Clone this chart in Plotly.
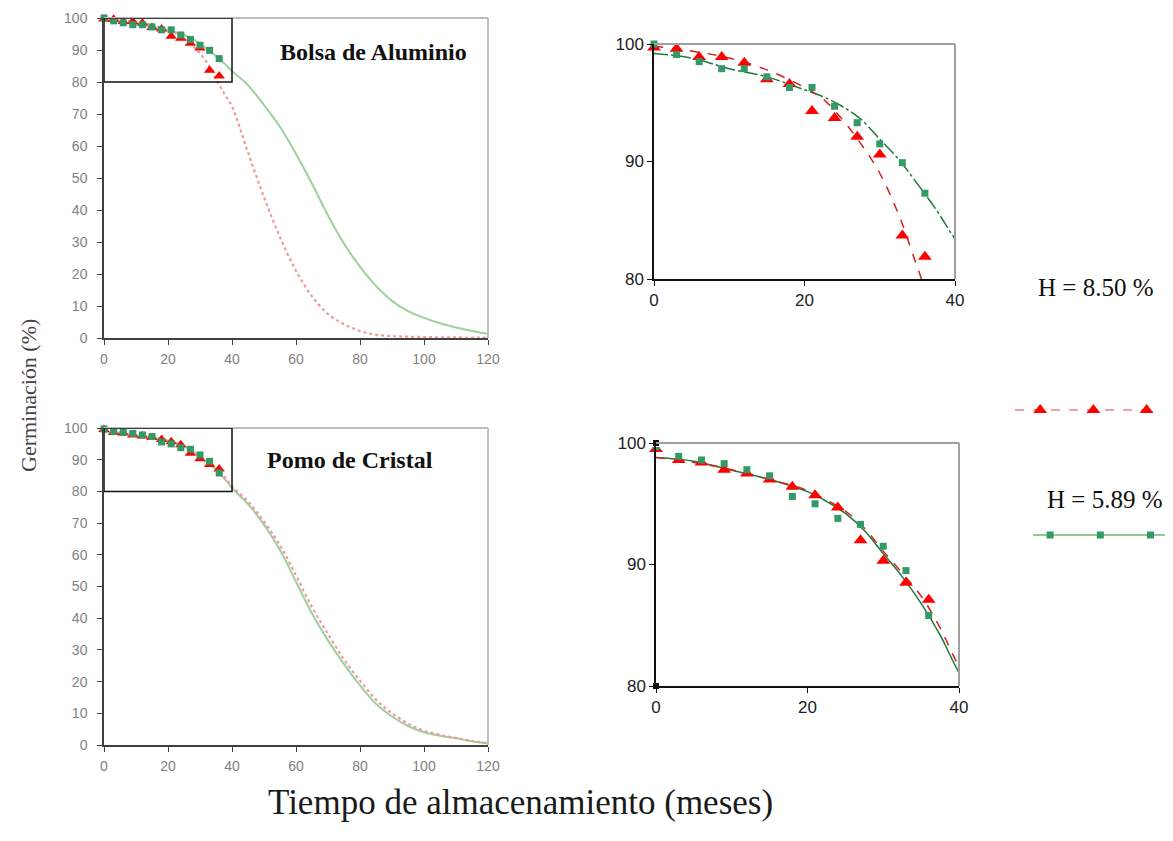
import plotly.graph_objects as go

W, H = 1173, 841          # window size of the reference
PAGE_OFF = 8              # default page margin around the figure
FW, FH = W - PAGE_OFF, H - PAGE_OFF

# ---------------- data ----------------
# storage time of sampled points (months)
pts_months = [0, 3, 6, 9, 12, 15, 18, 21, 24, 27, 30, 33, 36]

# Bolsa de Aluminio - observed germination (%)
alu_h850 = [99.7, 99.6, 98.9, 98.9, 98.4, 97.0, 96.6, 94.3, 93.7, 92.1, 90.6, 83.7, 81.9]
alu_h589 = [100.0, 99.1, 98.5, 97.9, 97.9, 97.2, 96.3, 96.3, 94.7, 93.3, 91.5, 89.9, 87.3]

# Pomo de Cristal - observed germination (%)
pomo_h850 = [99.5, 98.6, 98.4, 97.8, 97.5, 97.0, 96.4, 95.7, 94.7, 92.0, 90.3, 88.5, 87.1]
pomo_h589 = [99.7, 98.9, 98.6, 98.3, 97.8, 97.3, 95.6, 95.0, 93.8, 93.3, 91.5, 89.5, 85.8]

# fitted viability curves
curve_months = [0, 5, 10, 15, 20, 22.5, 25, 27.5, 30, 32.5, 35, 37.5, 40, 45, 50, 55,
                60, 65, 70, 75, 80, 85, 90, 95, 100, 105, 110, 115, 120]
alu_fit_h850 = [99.8, 99.4, 98.8, 97.8, 96.3, 95.3, 93.6, 91.5, 89.0, 85.5, 81.0, 76.5,
                72.3, 58.0, 44.0, 31.5, 21.0, 13.0, 7.5, 4.3, 2.2, 1.0, 0.6, 0.4, 0.3,
                0.2, 0.2, 0.1, 0.1]
alu_fit_h589 = [99.2, 98.8, 97.9, 97.2, 96.1, 95.5, 94.7, 93.6, 91.9, 90.2, 88.1, 85.9,
                83.4, 79.0, 72.8, 66.0, 57.5, 48.2, 38.3, 29.5, 22.3, 16.3, 11.6, 8.4,
                6.3, 4.6, 3.3, 2.2, 1.3]
pomo_fit_h850 = [98.8, 98.4, 97.8, 97.0, 96.1, 95.3, 94.4, 93.0, 91.1, 89.3, 87.4, 84.8,
                 81.6, 76.8, 70.5, 63.0, 53.5, 43.5, 35.0, 27.0, 20.3, 14.3, 10.0, 6.8,
                 4.5, 3.2, 2.2, 1.3, 0.6]
pomo_fit_h589 = [98.8, 98.5, 97.75, 97.0, 96.0, 95.2, 94.2, 92.8, 90.9, 89.0, 86.8, 84.2,
                 81.1, 76.0, 69.5, 61.5, 51.5, 41.5, 33.0, 25.5, 18.8, 13.0, 9.0, 6.0,
                 4.0, 2.9, 2.1, 1.2, 0.5]

# zoom window drawn on the full-range charts
zoom_x = [0, 40]
zoom_y = [80, 100]

legend_labels = ["H = 8.50 %", "H = 5.89 %"]
panel_titles = ["Bolsa de Aluminio", "Pomo de Cristal"]
x_title = "Tiempo de almacenamiento (meses)"
y_title = "Germinación (%)"

# ---------------- styles ----------------
RED = "#FF0000"
GREEN = "#339966"
SANS = "Liberation Sans, Arial, sans-serif"
SERIF = "Liberation Serif, Times New Roman, serif"


def fx(p):
    return (p - PAGE_OFF) / FW


def fy(p):
    return (FH - (p - PAGE_OFF)) / FH


def px_x(a, b):
    return [fx(a), fx(b)]


def px_y(top, bottom):
    return [fy(bottom), fy(top)]


fig = go.Figure()

panels = [
    ("x", "y", (alu_fit_h850, alu_fit_h589), (alu_h850, alu_h589), True),
    ("x2", "y2", (alu_fit_h850, alu_fit_h589), (alu_h850, alu_h589), False),
    ("x3", "y3", (pomo_fit_h850, pomo_fit_h589), (pomo_h850, pomo_h589), True),
    ("x4", "y4", (pomo_fit_h850, pomo_fit_h589), (pomo_h850, pomo_h589), False),
]

for i, (xa, ya, fits, obs, full) in enumerate(panels):
    if full:
        red_line = dict(color="#F29A9A", width=2.2, dash="dot")
        green_line = dict(color="#9ED09E", width=2)
        tri_size, sq_size = 10, 7
    else:
        red_line = dict(color="#D42020", width=1.5, dash="dash")
        if i == 1:
            green_line = dict(color="#1F7A3A", width=1.5, dash="14px,3px,3px,3px")
        else:
            green_line = dict(color="#1F7A3A", width=1.5)
        tri_size, sq_size = 12, 7
    fig.add_trace(go.Scatter(x=curve_months, y=fits[1], mode="lines", line=green_line,
                             line_shape="spline", xaxis=xa, yaxis=ya, showlegend=False))
    fig.add_trace(go.Scatter(x=curve_months, y=fits[0], mode="lines", line=red_line,
                             line_shape="spline", xaxis=xa, yaxis=ya, showlegend=False))
    fig.add_trace(go.Scatter(x=pts_months, y=obs[0], mode="markers",
                             marker=dict(symbol="triangle-up", size=tri_size, color=RED),
                             cliponaxis=False, xaxis=xa, yaxis=ya, showlegend=False))
    fig.add_trace(go.Scatter(x=pts_months, y=obs[1], mode="markers",
                             marker=dict(symbol="square", size=sq_size, color=GREEN),
                             cliponaxis=False, xaxis=xa, yaxis=ya, showlegend=False))

# corner markers visible on the lower inset
fig.add_trace(go.Scatter(x=[zoom_x[0], zoom_x[0]], y=zoom_y, mode="markers",
                         marker=dict(symbol="square", size=7, color="#111111",
                                     line=dict(color="white", width=1)),
                         cliponaxis=False, xaxis="x4", yaxis="y4", showlegend=False))

# legend keys (own small axes)
fig.add_trace(go.Scatter(x=[0, 1], y=[0, 0], mode="lines",
                         line=dict(color="#F08080", width=1.5, dash="dash"),
                         xaxis="x5", yaxis="y5", showlegend=False))
fig.add_trace(go.Scatter(x=[0.18, 0.56, 0.94], y=[0, 0, 0], mode="markers",
                         marker=dict(symbol="triangle-up", size=12, color=RED),
                         cliponaxis=False, xaxis="x5", yaxis="y5", showlegend=False))
fig.add_trace(go.Scatter(x=[0, 1], y=[0, 0], mode="lines",
                         line=dict(color="#8FCB8F", width=2),
                         xaxis="x6", yaxis="y6", showlegend=False))
fig.add_trace(go.Scatter(x=[0.13, 0.51, 0.89], y=[0, 0, 0], mode="markers",
                         marker=dict(symbol="square", size=7, color=GREEN),
                         cliponaxis=False, xaxis="x6", yaxis="y6", showlegend=False))

common = dict(showgrid=False, zeroline=False, showline=True, automargin=False,
              ticks="outside", ticklen=5, linewidth=1.5)
big_font = dict(family=SANS, size=14, color="#7F7F7F")
small_font = dict(family=SANS, size=17, color="#222222")
big_x = dict(common, range=[0, 120], dtick=20, linecolor="#404040", tickcolor="#404040",
             tickfont=big_font, ticklabelstandoff=2)
big_y = dict(common, range=[0, 100], dtick=10, linecolor="#404040", tickcolor="#404040",
             tickfont=big_font, ticklabelstandoff=7)
small_x = dict(common, range=[0, 40], dtick=20, linecolor="#111111", tickcolor="#111111",
               tickfont=small_font)
small_y = dict(common, range=[80, 100], dtick=10, linecolor="#111111", tickcolor="#111111",
               tickfont=small_font)
hidden = dict(visible=False, showgrid=False, zeroline=False, automargin=False)

fig.update_layout(
    template="none",
    width=FW, height=FH, margin=dict(l=0, r=0, t=0, b=0, autoexpand=False),
    paper_bgcolor="white", plot_bgcolor="white",
    xaxis=dict(big_x, domain=px_x(104, 488), anchor="y"),
    yaxis=dict(big_y, domain=px_y(18, 338), anchor="x"),
    xaxis2=dict(small_x, domain=px_x(654, 955), anchor="y2"),
    yaxis2=dict(small_y, domain=px_y(44, 279), anchor="x2"),
    xaxis3=dict(big_x, domain=px_x(104, 488), anchor="y3"),
    yaxis3=dict(big_y, domain=px_y(428, 745), anchor="x3"),
    xaxis4=dict(small_x, domain=px_x(656, 959), anchor="y4"),
    yaxis4=dict(small_y, domain=px_y(443, 686), anchor="x4"),
    xaxis5=dict(hidden, range=[0, 1], domain=px_x(1015, 1155), anchor="y5"),
    yaxis5=dict(hidden, range=[-1, 1], domain=px_y(400, 420), anchor="x5"),
    xaxis6=dict(hidden, range=[0, 1], domain=px_x(1033, 1165), anchor="y6"),
    yaxis6=dict(hidden, range=[-1, 1], domain=px_y(525, 545), anchor="x6"),
)

shapes = []
for xa, ya, col in [("x", "y", "#BDBDBD"), ("x2", "y2", "#A0A0A0"),
                    ("x3", "y3", "#BDBDBD"), ("x4", "y4", "#A0A0A0")]:
    shapes.append(dict(type="line", xref=f"{xa} domain", yref=f"{ya} domain",
                       x0=0, x1=1, y0=1, y1=1, line=dict(color=col, width=2)))
    shapes.append(dict(type="line", xref=f"{xa} domain", yref=f"{ya} domain",
                       x0=1, x1=1, y0=0, y1=1, line=dict(color=col, width=2)))
for xa, ya in [("x", "y"), ("x3", "y3")]:
    shapes.append(dict(type="rect", xref=xa, yref=ya, x0=zoom_x[0], x1=zoom_x[1],
                       y0=zoom_y[0], y1=zoom_y[1], line=dict(color="#111111", width=1.5)))
fig.update_layout(shapes=shapes)


def label(text, x, y, size, color="#111111", angle=0):
    return dict(text=text, x=fx(x), y=fy(y), xref="paper", yref="paper",
                showarrow=False, xanchor="center", yanchor="middle", textangle=angle,
                font=dict(family=SERIF, size=size, color=color))


anns = [
    label(f"<b>{panel_titles[0]}</b>", 373, 52, 24),
    label(f"<b>{panel_titles[1]}</b>", 350, 460, 24),
    label(legend_labels[0], 1095, 287, 25),
    label(legend_labels[1], 1104, 500, 25),
    label(y_title, 28, 396, 22, "#444444", -90),
    label(x_title, 520, 802, 35, "#1A1A1A"),
]
fig.update_layout(annotations=anns)

fig.write_html("out.html")
